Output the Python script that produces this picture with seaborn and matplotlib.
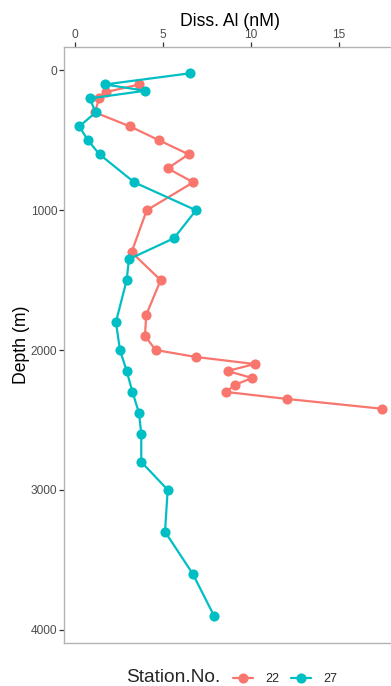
import matplotlib
matplotlib.use("Agg")
import matplotlib.pyplot as plt
import seaborn as sns
import pandas as pd
from matplotlib.lines import Line2D

# Station 22
st22_al = [3.65, 1.77, 1.38, 1.15, 3.14, 4.80, 6.47, 5.28, 6.73, 4.09, 3.23, 4.88,
           4.06, 3.99, 4.60, 6.90, 10.22, 8.69, 10.07, 9.09, 8.61, 12.07, 17.45]
st22_depth = [100, 155, 200, 300, 400, 500, 600, 700, 800, 1000, 1300, 1500,
              1750, 1900, 2000, 2050, 2100, 2150, 2200, 2250, 2300, 2350, 2420]
# Station 27
st27_al = [6.55, 1.72, 4.00, 0.85, 1.19, 0.26, 0.75, 1.41, 3.38, 6.89, 5.64, 3.08,
           2.95, 2.34, 2.57, 2.95, 3.28, 3.65, 3.78, 3.78, 5.28, 5.13, 6.70, 7.91]
st27_depth = [20, 100, 145, 200, 300, 400, 500, 600, 800, 1000, 1200, 1350,
              1500, 1800, 2000, 2150, 2300, 2450, 2600, 2800, 3000, 3300, 3600, 3900]

stations = ["22", "27"]
palette = {"22": "#F8766D", "27": "#00BFC4"}
x_ticks = [0, 5, 10, 15]
y_ticks = [0, 1000, 2000, 3000, 4000]

df = pd.DataFrame({
    "al": st22_al + st27_al,
    "depth": st22_depth + st27_depth,
    "station": ["22"] * len(st22_al) + ["27"] * len(st27_al),
})

sns.set_style("white")
plt.rcParams["font.family"] = ["Liberation Sans", "DejaVu Sans"]

W, H = 391, 686
fig = plt.figure(figsize=(W / 100, H / 100), dpi=100)
left, right_px, top, bottom = 64, 397, 47, 643
ax = fig.add_axes([left / W, (H - bottom) / H, (right_px - left) / W, (bottom - top) / H])

sns.lineplot(data=df, x="al", y="depth", hue="station", palette=palette,
             estimator=None, sort=False, marker="o", markersize=7.3,
             markeredgewidth=0, linewidth=1.6, legend=False, ax=ax)

ax.set_xlim(-0.61, 18.31)
ax.set_ylim(4096, -168)
ax.set_xticks(x_ticks)
ax.set_yticks(y_ticks)
ax.xaxis.tick_top()
ax.xaxis.set_label_position("top")
ax.set_xlabel("Diss. Al (nM)", fontsize=12.7, color="black", labelpad=2)
ax.set_ylabel("Depth (m)", fontsize=12.7, color="black", labelpad=0.5)
ax.tick_params(axis="both", length=3.5, width=0.9, color="#333333",
               labelsize=8.6, labelcolor="#4d4d4d", pad=1.5)
ax.tick_params(axis="x", top=True, bottom=False, pad=1.0)
ax.tick_params(axis="y", left=True)
for s in ax.spines.values():
    s.set_color("#b3b3b3")
    s.set_linewidth(1.0)
ax.grid(False)

# Legend at bottom (ggplot-style, title on the left)
ly = 8.5 / H
fig.text(126 / W, ly, "Station.No.", fontsize=13.8, ha="left", va="center")
handles = [Line2D([0], [0], color=palette[s], marker="o", markersize=7.3,
                  markeredgewidth=0, linewidth=1.6) for s in stations]
fig.legend(handles, stations, ncol=2, frameon=False, fontsize=9,
           loc="center left", bbox_to_anchor=(233 / W, 6.5 / H),
           handlelength=1.6, handletextpad=0.96, columnspacing=0.96,
           borderpad=0, borderaxespad=0)

fig.savefig("out.png", dpi=100)
